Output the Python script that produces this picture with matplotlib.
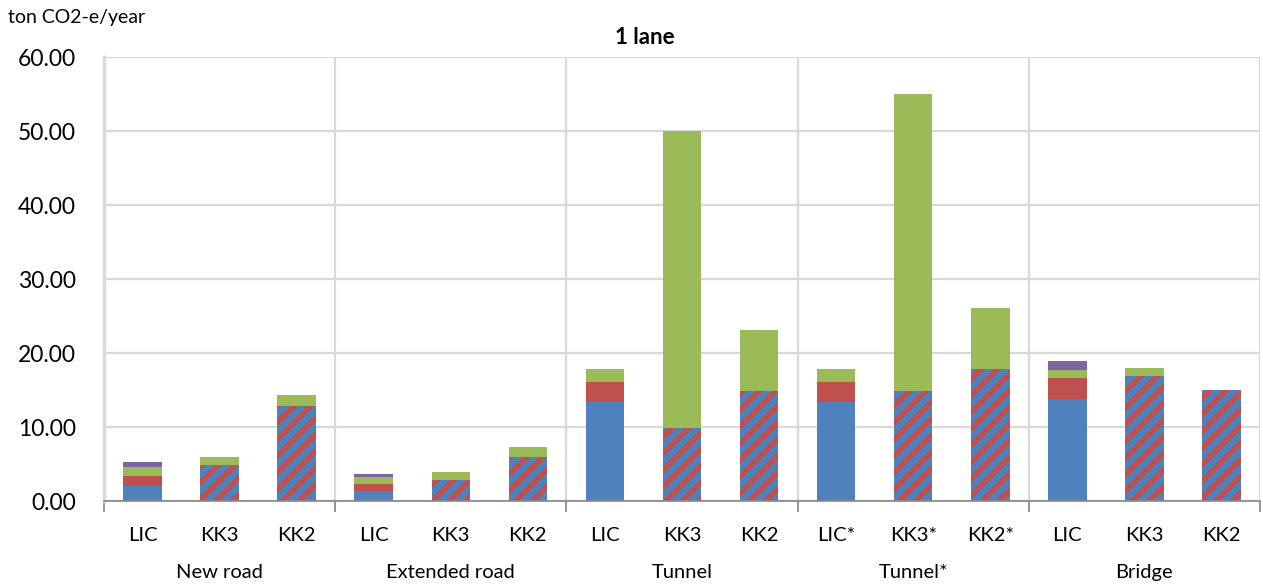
import matplotlib
matplotlib.use("Agg")
import matplotlib.pyplot as plt
import numpy as np

# Emission components per scenario (ton CO2-e/year)
groups = ["New road", "Extended road", "Tunnel", "Tunnel*", "Bridge"]
variants = [["LIC", "KK3", "KK2"], ["LIC", "KK3", "KK2"], ["LIC", "KK3", "KK2"],
            ["LIC*", "KK3*", "KK2*"], ["LIC", "KK3", "KK2"]]

blue    = [2.07, 0, 0,   1.40, 0, 0,   13.34, 0, 0,    13.34, 0, 0,     13.83, 0, 0]
red     = [1.30, 0, 0,   0.90, 0, 0,    2.74, 0, 0,     2.74, 0, 0,      2.84, 0, 0]
hatched = [0, 4.90, 12.88, 0, 2.84, 5.95, 0, 9.90, 14.90, 0, 14.90, 17.84, 0, 16.94, 14.95]
green   = [1.22, 1.05, 1.42, 0.90, 1.08, 1.30, 1.72, 40.06, 8.20, 1.72, 40.10, 8.26, 0.99, 0.99, 0]
purple  = [0.63, 0, 0,   0.40, 0, 0,    0, 0, 0,        0, 0, 0,         1.26, 0, 0]

yticks = [0, 10, 20, 30, 40, 50, 60]

plt.rcParams["font.family"] = ["Lato", "DejaVu Sans"]
plt.rcParams["hatch.linewidth"] = 3.8

C_BLUE, C_RED, C_GREEN, C_PURPLE = "#4F81BD", "#C0504D", "#9BBB59", "#8064A2"

fig = plt.figure(figsize=(12.63, 5.84), dpi=100)
ax = fig.add_axes([104 / 1263, 1 - 501 / 584, (1260 - 104) / 1263, (501 - 57) / 584])

labels = [v for g in variants for v in g]
x = np.arange(len(labels))
w = 0.5

bottom = np.zeros(len(x))
ax.bar(x, blue, w, bottom=bottom, color=C_BLUE, linewidth=0, zorder=3)
bottom += blue
ax.bar(x, red, w, bottom=bottom, color=C_RED, linewidth=0, zorder=3)
bottom += red
ax.bar(x, hatched, w, bottom=bottom, facecolor=C_BLUE, edgecolor=C_RED,
       hatch="//", linewidth=0, zorder=3)
bottom += hatched
ax.bar(x, green, w, bottom=bottom, color=C_GREEN, linewidth=0, zorder=3)
bottom += green
ax.bar(x, purple, w, bottom=bottom, color=C_PURPLE, linewidth=0, zorder=3)

ax.set_xlim(-0.5, len(x) - 0.5)
ax.set_ylim(0, 60)
ax.set_yticks(yticks)
ax.set_yticklabels([f"{v:.2f}" for v in yticks], fontsize=16.5)
ax.tick_params(axis="y", length=0, pad=20)

# category labels and group separators
ax.set_xticks(x)
ax.set_xticklabels(labels, fontsize=14.5)
ax.tick_params(axis="x", which="major", length=0, pad=19)
bounds = np.arange(-0.5, len(x), 3)
ax.set_xticks(bounds, minor=True)
ax.tick_params(axis="x", which="minor", length=8, width=1.3, color="#8C8C8C", direction="out")

for i, g in enumerate(groups):
    ax.annotate(g, xy=(3 * i + 1, 0), xycoords=("data", "axes fraction"),
                xytext=(0, -51.5), textcoords="offset points", ha="center", va="center",
                fontsize=14.5)

ax.grid(axis="y", which="major", color="#D9D9D9", linewidth=1.6, zorder=0)
ax.grid(axis="x", which="minor", color="#D9D9D9", linewidth=1.6, zorder=0)
ax.grid(axis="x", which="major", visible=False)

for s in ["top", "right"]:
    ax.spines[s].set_visible(False)
ax.spines["left"].set_color("#D9D9D9")
ax.spines["left"].set_linewidth(2.5)
ax.spines["bottom"].set_color("#8C8C8C")
ax.spines["bottom"].set_linewidth(1.3)
ax.spines["bottom"].set_zorder(4)

fig.text(645 / 1263, 1 - 38 / 584, "1 lane", ha="center", va="center",
         fontsize=16, fontweight="bold")
fig.text(8 / 1263, 1 - 18 / 584, "ton CO2-e/year", ha="left", va="center", fontsize=14)

fig.savefig("out.png", dpi=100)
